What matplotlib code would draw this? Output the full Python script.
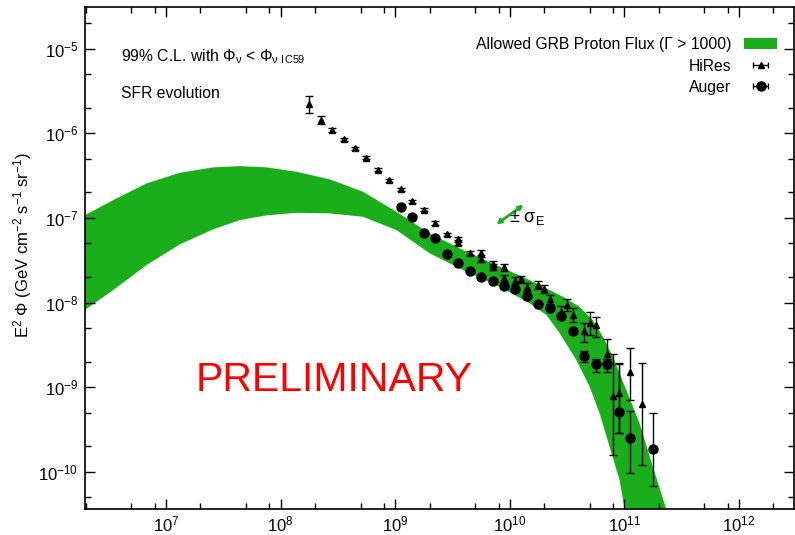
import numpy as np
import matplotlib
matplotlib.use("Agg")
import matplotlib.pyplot as plt
from matplotlib.ticker import LogLocator, NullFormatter
from matplotlib.patches import Patch

plt.rcParams['font.family'] = ['Liberation Sans', 'DejaVu Sans']
plt.rcParams['mathtext.default'] = 'regular'
plt.rcParams['axes.unicode_minus'] = False
plt.rcParams['font.size'] = 10

# allowed band, log10(E/GeV) and log10(flux)
band_up_logE = [6.29, 6.541, 6.832, 7.122, 7.412, 7.645, 7.878, 8.140, 8.430, 8.720,
                9.011, 9.302, 9.592, 9.883, 10.174, 10.464, 10.609, 10.725, 10.813,
                10.900, 11.017, 11.133, 11.249, 11.365, 11.42]
band_up_logF = [-6.97, -6.788, -6.591, -6.466, -6.402, -6.387, -6.402, -6.454, -6.544, -6.690,
                -6.927, -7.182, -7.379, -7.557, -7.734, -7.931, -8.050, -8.207, -8.404,
                -8.641, -9.034, -9.428, -9.941, -10.44, -10.7]
band_lo_logE = [6.29, 6.541, 6.832, 7.122, 7.412, 7.645, 7.878, 8.140, 8.430, 8.720,
                9.011, 9.302, 9.592, 9.883, 10.174, 10.32, 10.435, 10.581, 10.697,
                10.784, 10.871, 10.958, 11.002, 11.04]
band_lo_logF = [-8.09, -7.852, -7.556, -7.312, -7.135, -7.025, -6.969, -6.939, -6.946, -6.986,
                -7.143, -7.418, -7.616, -7.793, -8.009, -8.148, -8.36, -8.680, -8.995,
                -9.310, -9.704, -10.098, -10.44, -10.7]

# HiRes: logE, logF, log lower, log upper
hires_logE = [8.25, 8.35, 8.45, 8.55, 8.65, 8.75, 8.85, 8.95, 9.05, 9.15, 9.25, 9.35, 9.45,
              9.55, 9.55, 9.65, 9.75, 9.75, 9.85, 9.85, 9.95, 9.95, 10.05, 10.10, 10.15,
              10.25, 10.30, 10.35, 10.45, 10.50, 10.55, 10.65, 10.70, 10.75, 10.85, 10.90,
              10.95, 11.05, 11.15]
hires_logF = [-5.654, -5.843, -5.961, -6.071, -6.174, -6.288, -6.428, -6.552, -6.662, -6.804,
              -6.901, -7.060, -7.193, -7.253, -7.293, -7.415, -7.411, -7.489, -7.548, -7.577,
              -7.584, -7.714, -7.742, -7.726, -7.813, -7.793, -7.837, -7.962, -8.109, -8.030,
              -8.148, -8.333, -8.239, -8.266, -8.609, -9.105, -9.073, -8.818, -9.200]
hires_lo = [-5.760, -5.894, -5.985, -6.090, -6.192, -6.305, -6.445, -6.570, -6.680, -6.822,
            -6.920, -7.080, -7.213, -7.280, -7.320, -7.440, -7.440, -7.520, -7.585, -7.610,
            -7.625, -7.760, -7.785, -7.765, -7.860, -7.840, -7.885, -8.020, -8.180, -8.100,
            -8.230, -8.463, -8.384, -8.404, -8.774, -9.803, -9.546, -9.153, -9.921]
hires_hi = [-5.559, -5.796, -5.937, -6.052, -6.156, -6.271, -6.411, -6.534, -6.644, -6.786,
            -6.882, -7.040, -7.173, -7.228, -7.266, -7.390, -7.382, -7.458, -7.511, -7.544,
            -7.545, -7.670, -7.700, -7.688, -7.766, -7.748, -7.790, -7.905, -8.040, -7.960,
            -8.070, -8.239, -8.109, -8.175, -8.431, -8.609, -8.719, -8.541, -8.712]

# Auger
auger_logE = [9.05, 9.15, 9.25, 9.35, 9.45, 9.55, 9.65, 9.75, 9.85, 9.95, 10.05, 10.15,
              10.25, 10.35, 10.45, 10.55, 10.65, 10.75, 10.85, 10.95, 11.05, 11.25]
auger_logF = [-6.875, -6.993, -7.182, -7.238, -7.423, -7.537, -7.624, -7.695, -7.746, -7.805,
              -7.844, -7.923, -8.018, -8.059, -8.160, -8.333, -8.632, -8.730, -8.727, -9.294,
              -9.605, -9.735]
auger_lo = [-6.885, -7.003, -7.192, -7.248, -7.433, -7.547, -7.636, -7.707, -7.760, -7.820,
            -7.860, -7.942, -8.040, -8.085, -8.190, -8.370, -8.700, -8.818, -8.818, -9.539,
            -10.019, -10.163]
auger_hi = [-6.865, -6.983, -7.172, -7.228, -7.413, -7.527, -7.612, -7.683, -7.732, -7.790,
            -7.828, -7.904, -7.996, -8.033, -8.130, -8.296, -8.573, -8.668, -8.668, -8.727,
            -9.283, -9.303]

green = '#1aaf1a'

fig = plt.figure(figsize=(7.95, 5.35), dpi=100)
ax = fig.add_axes([85 / 795, 26 / 535, 709 / 795, 501.7 / 535])

px = np.concatenate([10 ** np.array(band_up_logE), 10 ** np.array(band_lo_logE)[::-1]])
py = np.concatenate([10 ** np.array(band_up_logF), 10 ** np.array(band_lo_logF)[::-1]])
ax.fill(px, py, color=green, lw=0, zorder=1)


def draw(logE, logF, lo, hi, fmt, ms):
    x = 10 ** np.array(logE)
    y = 10 ** np.array(logF)
    yerr = [y - 10 ** np.array(lo), 10 ** np.array(hi) - y]
    ax.errorbar(x, y, yerr=yerr, fmt=fmt, color='black', ms=ms, lw=1.0,
                capsize=3, capthick=1.0, zorder=3)


draw(hires_logE, hires_logF, hires_lo, hires_hi, '^', 5)
draw(auger_logE, auger_logF, auger_lo, auger_hi, 'o', 6.5)

ax.set_xscale('log')
ax.set_yscale('log')
ax.set_xlim(10 ** 6.294, 10 ** 12.48)
ax.set_ylim(10 ** -10.44, 10 ** -4.51)

ax.xaxis.set_major_locator(LogLocator(base=10, numticks=20))
ax.xaxis.set_minor_locator(LogLocator(base=10, subs=(2, 5, 8), numticks=20))
ax.yaxis.set_major_locator(LogLocator(base=10, numticks=20))
ax.yaxis.set_minor_locator(LogLocator(base=10, subs=(2, 5), numticks=20))
ax.xaxis.set_minor_formatter(NullFormatter())
ax.yaxis.set_minor_formatter(NullFormatter())
ax.tick_params(which='both', direction='in', top=True, right=True, labelsize=12)
ax.tick_params(which='major', length=7, width=1)
ax.tick_params(which='minor', length=4, width=1)
ax.tick_params(axis='x', pad=4)
ax.tick_params(axis='y', pad=5)
for s in ax.spines.values():
    s.set_linewidth(1.2)

ax.set_ylabel(r'E$^2$ $\Phi$ (GeV cm$^{-2}$ s$^{-1}$ sr$^{-1}$)', fontsize=12)
ax.yaxis.set_label_coords(-0.072, 0.526)

fig.text(120.7 / 795, 1 - 57 / 535, r'99% C.L. with $\Phi_\nu$ < $\Phi_{\nu\ IC59}$',
         fontsize=11.3, va='center', ha='left')
fig.text(120.7 / 795, 1 - 93 / 535, 'SFR evolution',
         fontsize=11.3, va='center', ha='left')
ax.text(0.352, 0.257, 'PRELIMINARY', transform=ax.transAxes, color='#ff0000',
        fontsize=29.5, ha='center', va='center')

ax.annotate('', xy=(10 ** 10.121, 10 ** -6.844), xytext=(10 ** 9.883, 10 ** -7.076),
            arrowprops=dict(arrowstyle='<|-|>', color=green, lw=2,
                            mutation_scale=6, shrinkA=0, shrinkB=0))
ax.text(10 ** 9.995, 10 ** -7.0, r'$\pm$ $\sigma_E$', fontsize=13, va='center', ha='left')

# legend proxies
h_band = Patch(facecolor=green, edgecolor='none')
h_hi = ax.errorbar([np.nan], [np.nan], xerr=[1], fmt='^', color='black', ms=5,
                   lw=1, capsize=2.5)
h_au = ax.errorbar([np.nan], [np.nan], xerr=[1], fmt='o', color='black', ms=6.5,
                   lw=1, capsize=2.5)
ax.legend([h_band, h_hi, h_au],
          [u'Allowed GRB Proton Flux (\u0393 > 1000)', 'HiRes', 'Auger'],
          loc='upper right', bbox_to_anchor=(0.976, 0.94), markerfirst=False,
          frameon=False, fontsize=11.3, handlelength=2.1, handletextpad=0.8,
          borderpad=0, borderaxespad=0, labelspacing=0.4)

plt.savefig('out.png', dpi=100)
